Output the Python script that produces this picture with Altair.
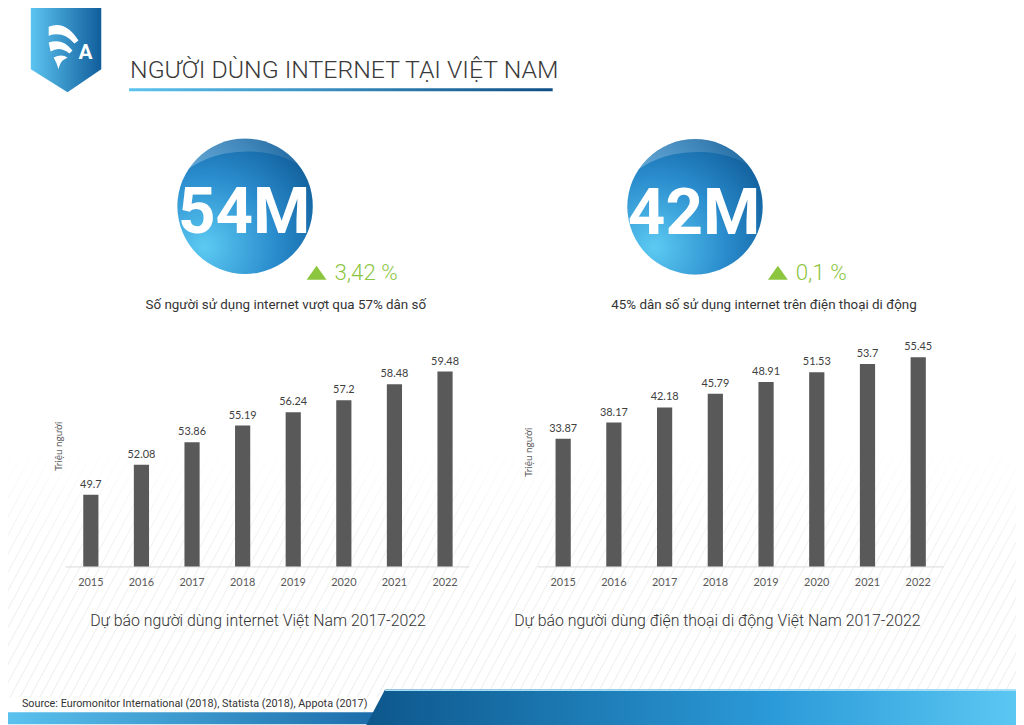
import altair as alt
import pandas as pd

# ---------------- data ----------------
years = ["2015", "2016", "2017", "2018", "2019", "2020", "2021", "2022"]
internet_users = [49.7, 52.08, 53.86, 55.19, 56.24, 57.2, 58.48, 59.48]
mobile_users = [33.87, 38.17, 42.18, 45.79, 48.91, 51.53, 53.7, 55.45]
headline_values = ["54M", "42M"]
growth_labels = ["3,42 %", "0,1 %"]
headline_notes = [
    "Số người sử dụng internet vượt qua 57% dân số",
    "45% dân số sử dụng internet trên điện thoại di động",
]
chart_captions = [
    "Dự báo người dùng internet Việt Nam 2017-2022",
    "Dự báo người dùng điện thoại di động Việt Nam 2017-2022",
]
y_title = "Triệu người"
page_title = "NGƯỜI DÙNG INTERNET TẠI VIỆT NAM"
source_note = "Source: Euromonitor International (2018), Statista (2018), Appota (2017)"

# ---------------- layout helpers ----------------
OX, OY = 8, 8  # page margin
W, H = 1016, 717


def px(x):
    return x - OX


def py(y):
    return y - OY


one = pd.DataFrame({"k": [0]})


def grad(stops, x1=0, y1=0, x2=1, y2=0):
    return alt.LinearGradient(
        gradient="linear",
        stops=[alt.GradientStop(color=c, offset=o) for o, c in stops],
        x1=x1, y1=y1, x2=x2, y2=y2,
    )


def shape(path, fill=None, stroke=None, stroke_width=0, opacity=1.0):
    kw = dict(shape=path, size=4, opacity=opacity)
    if fill is not None:
        kw.update(filled=True, fill=fill, strokeWidth=0)
    else:
        kw.update(filled=False, stroke=stroke, strokeWidth=stroke_width)
    return alt.Chart(one).mark_point(**kw).encode(
        x=alt.value(-OX), y=alt.value(-OY)
    )


def label(text, x, y, size, color, weight="normal", align="center",
          baseline="alphabetic", font="Roboto", angle=0):
    kw = dict(fontSize=size, color=color, fontWeight=weight, align=align,
              baseline=baseline, font=font)
    if angle:
        kw["angle"] = angle
    return alt.Chart(pd.DataFrame({"t": [text]})).mark_text(**kw).encode(
        x=alt.value(px(x)), y=alt.value(py(y)), text="t:N"
    )


def rect(x1, x2, y1, y2, fill):
    return alt.Chart(one).mark_rect(fill=fill, strokeWidth=0).encode(
        x=alt.value(px(x1)), x2=alt.value(px(x2)),
        y=alt.value(py(y1)), y2=alt.value(py(y2)),
    )


layers = []

# faint diagonal hatching in the lower half of the page, fading upward
hatch = " ".join(f"M{x0},700 L{x0 + 140},440" for x0 in range(-140, 1030, 10))
layers.append(shape(hatch, stroke=grad([(0, "rgba(236,236,236,0)"),
                                        (0.45, "rgba(236,236,236,0.9)"),
                                        (1, "rgba(236,236,236,1)")],
                                       x1=0, y1=0, x2=0, y2=1),
                    stroke_width=1))

# ---------------- header ----------------
layers.append(shape("M31,-10 L102,-10 L102,67 L68,90 L31,67 Z",
                    fill=grad([(0, "#5cc4f0"), (1, "#115e9c")])))
layers.append(shape("M49,24 Q66,17 79,38 L75,41 Q64,28 49,33 Z", fill="white"))
layers.append(shape("M49,40 Q63,35 73,48 L70,51 Q60,43 51,49 Z", fill="white"))
layers.append(shape("M54,55 Q62,51 68,55 L63,58 Q60,61 59,67 Q57,60 54,55 Z",
                    fill="white"))
layers.append(label("A", 86, 57, 21, "white", weight="bold", font="Roboto"))

layers.append(label(page_title, 131, 76, 25, "#3a3a3a", weight=300, align="left"))
layers.append(rect(130, 557, 86, 89, grad([(0, "#5cc3ef"), (1, "#0f4f86")])))

# ---------------- spheres ----------------
sphere_centers = [(247, 205), (700.5, 205.5)]
R = 77
sphere_fill = alt.RadialGradient(
    gradient="radial",
    stops=[alt.GradientStop(color="#5ccaf2", offset=0),
           alt.GradientStop(color="#2a8ccd", offset=0.5),
           alt.GradientStop(color="#0c5590", offset=1)],
    x1=0.2, y1=0.8, r1=0, x2=0.2, y2=0.8, r2=1.05,
)
for i, (cx, cy) in enumerate(sphere_centers):
    layers.append(
        alt.Chart(one).mark_point(shape="circle", filled=True, fill=sphere_fill,
                                  strokeWidth=0, opacity=1,
                                  size=3.14159 * R * R).encode(
            x=alt.value(px(cx)), y=alt.value(py(cy)))
    )
    hp = (f"M{cx-74},{cy-20} C{cx-66},{cy-58} {cx-34},{cy-77} {cx+2},{cy-77} "
          f"C{cx+40},{cy-77} {cx+68},{cy-56} {cx+75},{cy-22} "
          f"C{cx+55},{cy-48} {cx+28},{cy-56} {cx-2},{cy-55} "
          f"C{cx-36},{cy-54} {cx-60},{cy-40} {cx-74},{cy-20} Z")
    layers.append(shape(hp, fill=grad([(0, "rgba(255,255,255,0.30)"),
                                       (1, "rgba(255,255,255,0.03)")])))
    layers.append(label(headline_values[i], cx - 1, cy + 27, 66, "white",
                        weight="bold"))

# growth indicators
growth_pos = [(319, 337), (784, 802)]
for i, (tx, gx) in enumerate(growth_pos):
    layers.append(shape(f"M{tx-10},279 L{tx+10},279 L{tx},265 Z", fill="#8cc63f"))
    layers.append(label(growth_labels[i], gx, 279.5, 22.5, "#8cc63f", weight=300,
                        align="left"))

layers.append(label(headline_notes[0], 288, 309, 13.5, "#333333"))
layers.append(label(headline_notes[1], 770, 309, 13.5, "#333333"))


# ---------------- bar panels ----------------
def bar_panel(values, x_range, y_domain, y_range):
    df = pd.DataFrame({"year": years, "value": values,
                       "label": [f"{v:g}" for v in values]})
    xs = alt.X("year:N", axis=None,
               scale=alt.Scale(range=x_range, paddingInner=0.7, paddingOuter=0.35))
    ys = alt.Y("value:Q", axis=None,
               scale=alt.Scale(domain=y_domain, range=y_range, zero=False, nice=False))
    base = alt.Chart(df)
    bars = base.mark_bar(color="#595959").encode(x=xs, y=ys, y2=alt.datum(y_domain[0]))
    vals = base.mark_text(baseline="bottom", dy=-5, fontSize=11, color="#404040",
                          font="Lato").encode(x=xs, y=ys, text="label:N")
    yrs = base.mark_text(baseline="middle", fontSize=11, color="#595959",
                         font="Lato").encode(x=xs, y=alt.value(py(585)), text="year:N")
    return alt.layer(bars, vals, yrs)


layers.append(alt.Chart(one).mark_rule(color="#d9d9d9").encode(
    x=alt.value(px(66)), x2=alt.value(px(473)), y=alt.value(py(568.5))))
layers.append(alt.Chart(one).mark_rule(color="#d9d9d9").encode(
    x=alt.value(px(542)), x2=alt.value(px(951)), y=alt.value(py(568.5))))

layers.append(label(y_title, 59, 447, 10, "#595959", baseline="middle",
                    font="Lato", angle=270))
layers.append(label(y_title, 533, 453, 10, "#595959", baseline="middle",
                    font="Lato", angle=270))

layers.append(label(chart_captions[0], 260, 628, 16, "#333333", weight=300))
layers.append(label(chart_captions[1], 723, 628, 16, "#333333", weight=300))

# ---------------- footer ----------------
layers.append(rect(0, 390, 715, 727, grad([(0, "#5cc3ef"), (1, "#1a6aa8")])))
layers.append(shape("M388,692 L1030,692 L1030,730 L368,730 Z",
                    fill=grad([(0, "#0d578c"), (0.62, "#2b9ad8"), (1, "#5cc8f3")])))
layers.append(rect(388, 1024, 692, 693.5, "#a6def5"))
layers.append(label(source_note, 22, 710, 10.9, "#333333", align="left"))

left_panel = bar_panel(internet_users, [px(66), px(474)], [44, 60], [py(568), py(365)])
right_panel = bar_panel(mobile_users, [px(542), px(951)], [0, 60], [py(568), py(340)])

chart = (
    alt.layer(*layers, left_panel, right_panel)
    .resolve_scale(x="independent", y="independent")
    .properties(width=W, height=H, padding=0, autosize="none", background="white")
    .configure_view(strokeOpacity=0)
)

chart.save("out.html", embed_options={"renderer": "svg", "actions": False})
